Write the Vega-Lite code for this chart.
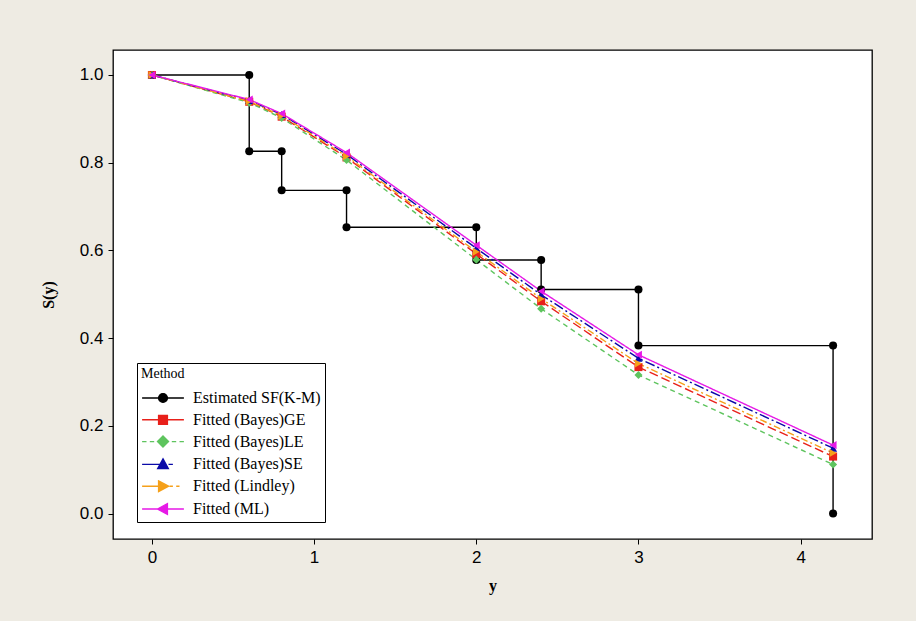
{
  "$schema": "https://vega.github.io/schema/vega-lite/v6.json",
  "width": 759,
  "height": 489,
  "autosize": {"type": "none"},
  "padding": {"left": 113, "top": 50, "right": 44, "bottom": 82},
  "background": "#EEEBE3",
  "config": {
    "view": {"stroke": "#000000", "strokeWidth": 1.3, "fill": "#FFFFFF"},
    "axis": {
      "domain": false, "grid": false, "ticks": true, "tickColor": "#000000", "tickSize": 5,
      "labelFont": "Liberation Sans Narrow, Liberation Sans, Arial", "labelFontSize": 17, "labelColor": "#000000", "labelPadding": 5,
      "titleFont": "Liberation Serif", "titleFontWeight": "bold", "titleFontSize": 16, "titleColor": "#000000"
    }
  },
  "data": {"values": [
    {"Method": "Estimated SF(K-M)", "y": 0, "S": 1, "i": 0},
    {"Method": "Estimated SF(K-M)", "y": 0.6, "S": 1, "i": 1},
    {"Method": "Estimated SF(K-M)", "y": 0.6, "S": 0.826, "i": 2},
    {"Method": "Estimated SF(K-M)", "y": 0.8, "S": 0.826, "i": 3},
    {"Method": "Estimated SF(K-M)", "y": 0.8, "S": 0.737, "i": 4},
    {"Method": "Estimated SF(K-M)", "y": 1.2, "S": 0.737, "i": 5},
    {"Method": "Estimated SF(K-M)", "y": 1.2, "S": 0.653, "i": 6},
    {"Method": "Estimated SF(K-M)", "y": 2, "S": 0.653, "i": 7},
    {"Method": "Estimated SF(K-M)", "y": 2, "S": 0.578, "i": 8},
    {"Method": "Estimated SF(K-M)", "y": 2.4, "S": 0.578, "i": 9},
    {"Method": "Estimated SF(K-M)", "y": 2.4, "S": 0.511, "i": 10},
    {"Method": "Estimated SF(K-M)", "y": 3, "S": 0.511, "i": 11},
    {"Method": "Estimated SF(K-M)", "y": 3, "S": 0.383, "i": 12},
    {"Method": "Estimated SF(K-M)", "y": 4.2, "S": 0.383, "i": 13},
    {"Method": "Estimated SF(K-M)", "y": 4.2, "S": 0, "i": 14},
    {"Method": "Fitted (Bayes)GE", "y": 0, "S": 1, "i": 0},
    {"Method": "Fitted (Bayes)GE", "y": 0.6, "S": 0.939, "i": 1},
    {"Method": "Fitted (Bayes)GE", "y": 0.8, "S": 0.905, "i": 2},
    {"Method": "Fitted (Bayes)GE", "y": 1.2, "S": 0.812, "i": 3},
    {"Method": "Fitted (Bayes)GE", "y": 2, "S": 0.592, "i": 4},
    {"Method": "Fitted (Bayes)GE", "y": 2.4, "S": 0.484, "i": 5},
    {"Method": "Fitted (Bayes)GE", "y": 3, "S": 0.334, "i": 6},
    {"Method": "Fitted (Bayes)GE", "y": 4.2, "S": 0.130, "i": 7},
    {"Method": "Fitted (Bayes)LE", "y": 0, "S": 1, "i": 0},
    {"Method": "Fitted (Bayes)LE", "y": 0.6, "S": 0.937, "i": 1},
    {"Method": "Fitted (Bayes)LE", "y": 0.8, "S": 0.902, "i": 2},
    {"Method": "Fitted (Bayes)LE", "y": 1.2, "S": 0.806, "i": 3},
    {"Method": "Fitted (Bayes)LE", "y": 2, "S": 0.579, "i": 4},
    {"Method": "Fitted (Bayes)LE", "y": 2.4, "S": 0.467, "i": 5},
    {"Method": "Fitted (Bayes)LE", "y": 3, "S": 0.316, "i": 6},
    {"Method": "Fitted (Bayes)LE", "y": 4.2, "S": 0.112, "i": 7},
    {"Method": "Fitted (Bayes)SE", "y": 0, "S": 1, "i": 0},
    {"Method": "Fitted (Bayes)SE", "y": 0.6, "S": 0.942, "i": 1},
    {"Method": "Fitted (Bayes)SE", "y": 0.8, "S": 0.910, "i": 2},
    {"Method": "Fitted (Bayes)SE", "y": 1.2, "S": 0.819, "i": 3},
    {"Method": "Fitted (Bayes)SE", "y": 2, "S": 0.605, "i": 4},
    {"Method": "Fitted (Bayes)SE", "y": 2.4, "S": 0.499, "i": 5},
    {"Method": "Fitted (Bayes)SE", "y": 3, "S": 0.354, "i": 6},
    {"Method": "Fitted (Bayes)SE", "y": 4.2, "S": 0.149, "i": 7},
    {"Method": "Fitted (Lindley)", "y": 0, "S": 1, "i": 0},
    {"Method": "Fitted (Lindley)", "y": 0.6, "S": 0.940, "i": 1},
    {"Method": "Fitted (Lindley)", "y": 0.8, "S": 0.907, "i": 2},
    {"Method": "Fitted (Lindley)", "y": 1.2, "S": 0.815, "i": 3},
    {"Method": "Fitted (Lindley)", "y": 2, "S": 0.597, "i": 4},
    {"Method": "Fitted (Lindley)", "y": 2.4, "S": 0.490, "i": 5},
    {"Method": "Fitted (Lindley)", "y": 3, "S": 0.342, "i": 6},
    {"Method": "Fitted (Lindley)", "y": 4.2, "S": 0.138, "i": 7},
    {"Method": "Fitted (ML)", "y": 0, "S": 1, "i": 0},
    {"Method": "Fitted (ML)", "y": 0.6, "S": 0.944, "i": 1},
    {"Method": "Fitted (ML)", "y": 0.8, "S": 0.912, "i": 2},
    {"Method": "Fitted (ML)", "y": 1.2, "S": 0.823, "i": 3},
    {"Method": "Fitted (ML)", "y": 2, "S": 0.612, "i": 4},
    {"Method": "Fitted (ML)", "y": 2.4, "S": 0.507, "i": 5},
    {"Method": "Fitted (ML)", "y": 3, "S": 0.362, "i": 6},
    {"Method": "Fitted (ML)", "y": 4.2, "S": 0.156, "i": 7}
  ]},
  "layer": [
    {
      "mark": {"type": "line", "strokeWidth": 1.4},
      "encoding": {
        "x": {"field": "y", "type": "quantitative", "scale": {"domain": [-0.24, 4.44], "nice": false, "zero": false},
              "axis": {"values": [0, 1, 2, 3, 4], "format": "d", "title": "y", "titleX": 379.5, "titleY": 46, "titleBaseline": "middle"}},
        "y": {"field": "S", "type": "quantitative", "scale": {"domain": [-0.058, 1.057], "nice": false, "zero": false},
              "axis": {"values": [0, 0.2, 0.4, 0.6, 0.8, 1], "format": ".1f", "title": "S(y)", "titleX": -65, "titleY": 244.5, "titleAngle": -90, "titleBaseline": "middle", "titleAlign": "center"}},
        "color": {"field": "Method", "type": "nominal", "legend": null,
                  "scale": {"domain": ["Estimated SF(K-M)", "Fitted (Bayes)GE", "Fitted (Bayes)LE", "Fitted (Bayes)SE", "Fitted (Lindley)", "Fitted (ML)"],
                            "range": ["#000000", "#E8201A", "#5EC45E", "#0A0AA8", "#F5A01A", "#E619E6"]}},
        "strokeDash": {"field": "Method", "type": "nominal", "legend": null,
                       "scale": {"domain": ["Estimated SF(K-M)", "Fitted (Bayes)GE", "Fitted (Bayes)LE", "Fitted (Bayes)SE", "Fitted (Lindley)", "Fitted (ML)"],
                                 "range": [[1, 0], [9, 4], [5, 4], [10, 3, 2, 3], [7, 3, 2, 3], [1, 0]]}},
        "order": {"field": "i", "type": "quantitative"}
      }
    },
    {
      "mark": {"type": "point", "filled": true, "size": 65, "opacity": 1},
      "encoding": {
        "x": {"field": "y", "type": "quantitative"},
        "y": {"field": "S", "type": "quantitative"},
        "color": {"field": "Method", "type": "nominal", "legend": null},
        "shape": {"field": "Method", "type": "nominal", "legend": null,
                  "scale": {"domain": ["Estimated SF(K-M)", "Fitted (Bayes)GE", "Fitted (Bayes)LE", "Fitted (Bayes)SE", "Fitted (Lindley)", "Fitted (ML)"],
                            "range": ["circle", "square", "diamond", "triangle-up", "triangle-right", "triangle-left"]}}
      }
    },
    {
      "mark": {"type": "point", "filled": true, "opacity": 0},
      "encoding": {
        "x": {"field": "y", "type": "quantitative"},
        "y": {"field": "S", "type": "quantitative"},
        "shape": {"field": "Method", "type": "nominal",
                  "scale": {"domain": ["Estimated SF(K-M)", "Fitted (Bayes)GE", "Fitted (Bayes)LE", "Fitted (Bayes)SE", "Fitted (Lindley)", "Fitted (ML)"],
                            "range": [
                              "M-1.9,0H1.9M-0.4,0A0.4,0.4 0 1,0 0.4,0A0.4,0.4 0 1,0 -0.4,0Z",
                              "M-1.9,0H1.9M-0.4,-0.4H0.4V0.4H-0.4Z",
                              "M-1.9,0H-1.5M-1.2,0H-0.8M0.8,0H1.2M1.5,0H1.9M0,-0.5L0.5,0L0,0.5L-0.5,0Z",
                              "M-1.9,0H-0.3M0.5,0H0.9M0,-0.5L0.48,0.38L-0.48,0.38Z",
                              "M-1.9,0H-0.3M0.6,0H0.9M1.2,0H1.5M0.5,0L-0.4,-0.48L-0.4,0.48Z",
                              "M-1.9,0H1.9M-0.5,0L0.4,-0.48L0.4,0.48Z"
                            ]},
                  "legend": {"title": "Method", "orient": "none", "legendX": 24, "legendY": 313, "direction": "vertical",
                             "symbolSize": 484, "symbolStrokeWidth": 1.4, "symbolOpacity": 1, "symbolOffset": 10, "labelOffset": 18,
                             "labelFont": "Liberation Serif", "labelFontSize": 16, "labelColor": "#000000",
                             "titleFont": "Liberation Serif", "titleFontSize": 14, "titleFontWeight": "normal", "titleColor": "#000000",
                             "fillColor": "#FFFFFF", "strokeColor": "#000000", "padding": 4, "rowPadding": 1.8, "titlePadding": 5,
                             "encode": {"symbols": {"update": {"opacity": {"value": 1}}}}}},
        "fill": {"field": "Method", "type": "nominal",
                 "scale": {"domain": ["Estimated SF(K-M)", "Fitted (Bayes)GE", "Fitted (Bayes)LE", "Fitted (Bayes)SE", "Fitted (Lindley)", "Fitted (ML)"],
                           "range": ["#000000", "#E8201A", "#5EC45E", "#0A0AA8", "#F5A01A", "#E619E6"]},
                 "legend": {"title": "Method", "orient": "none", "legendX": 24, "legendY": 313}},
        "stroke": {"field": "Method", "type": "nominal",
                   "scale": {"domain": ["Estimated SF(K-M)", "Fitted (Bayes)GE", "Fitted (Bayes)LE", "Fitted (Bayes)SE", "Fitted (Lindley)", "Fitted (ML)"],
                             "range": ["#000000", "#E8201A", "#5EC45E", "#0A0AA8", "#F5A01A", "#E619E6"]},
                   "legend": {"title": "Method", "orient": "none", "legendX": 24, "legendY": 313}}
      }
    }
  ],
  "resolve": {"scale": {"shape": "independent", "fill": "independent", "stroke": "independent"}}
}
